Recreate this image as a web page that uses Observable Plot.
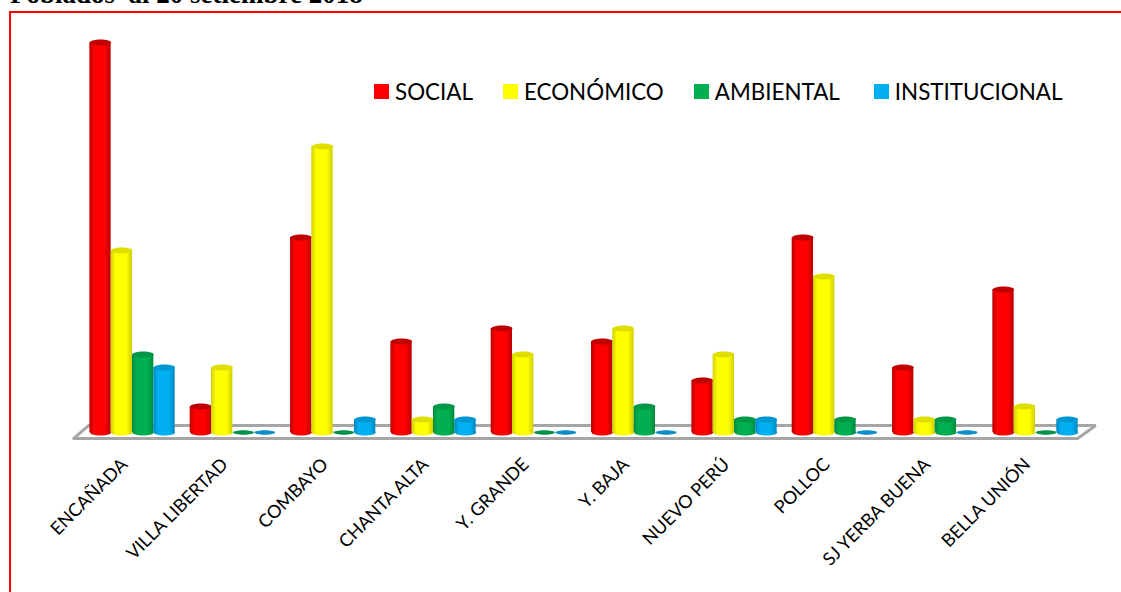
<!DOCTYPE html>
<html lang="es">
<head>
<meta charset="utf-8">
<script src="https://cdn.jsdelivr.net/npm/d3@7"></script>
<script src="https://cdn.jsdelivr.net/npm/@observablehq/plot@0.6"></script>
<style>
  html, body { margin: 0; padding: 0; background: #fff; width: 1121px; height: 592px; overflow: hidden; }
  #page { position: relative; width: 1121px; height: 592px; overflow: hidden; }
  #heading {
    position: absolute; left: 10px; top: -21px; margin: 0; white-space: pre;
    font: bold 27px "Liberation Serif", serif; color: #000;
  }
  #box {
    position: absolute; left: 9px; top: 11px; width: 1200px; height: 700px;
    border: 2px solid #f00; box-sizing: border-box;
  }
  #chart { position: absolute; left: 0; top: 0; }
  #legend { position: absolute; left: 374px; top: 78px; display: flex; font: 22.4px Lato, sans-serif; color: #000; white-space: nowrap; }
  #legend span.item { display: flex; align-items: center; }
  #legend i { display: inline-block; width: 15px; height: 15px; margin-right: 6px; }
</style>
</head>
<body>
<div id="page">
  <p id="heading">Poblados  al 20 setiembre 2018</p>
  <div id="box"></div>
  <div id="chart"></div>
  <div id="legend"></div>
</div>
<script>
// Number of proposals per hamlet, one array for each dimension.
const categories = ["ENCAÑADA", "VILLA LIBERTAD", "COMBAYO", "CHANTA ALTA", "Y. GRANDE", "Y. BAJA", "NUEVO PERÚ", "POLLOC", "SJ YERBA BUENA", "BELLA UNIÓN"];
const social        = [30, 2, 15, 7, 8, 7, 4, 15, 5, 11];
const economico     = [14, 5, 22, 1, 6, 8, 6, 12, 1, 2];
const ambiental     = [6, 0, 0, 2, 0, 2, 1, 1, 1, 0];
const institucional = [5, 0, 1, 1, 0, 0, 1, 0, 0, 1];

const seriesNames = ["SOCIAL", "ECONÓMICO", "AMBIENTAL", "INSTITUCIONAL"];
const seriesValues = [social, economico, ambiental, institucional];
const seriesFill = ["#ff0000", "#ffff00", "#00b050", "#00b0f0"];
const seriesEdge = ["#b80000", "#cfcf00", "#008a3e", "#0088c0"];
const seriesCap  = ["#c00000", "#dede00", "#009746", "#0096d2"];
const seriesFlat = ["#c00000", "#dede00", "#00924a", "#0a8fc8"];

// Width of one cylinder, in units of the x scale (one unit = one hamlet).
const barWidth = 0.2125;

// Outline of the chart floor, in x and y scale units.
const floorX = [-0.585, 9.42, 9.6, -0.435, -0.585];
const floorY = [-0.46, -0.46, 0.54, 0.54, -0.46];
const floor = floorX.map((x, i) => ({x, y: floorY[i]}));

const ellipse = (rx, ry) => ({
  draw(context) {
    const k = 0.5523;
    context.moveTo(-rx, 0);
    context.bezierCurveTo(-rx, -k * ry, -k * rx, -ry, 0, -ry);
    context.bezierCurveTo(k * rx, -ry, rx, -k * ry, rx, 0);
    context.bezierCurveTo(rx, k * ry, k * rx, ry, 0, ry);
    context.bezierCurveTo(-k * rx, ry, -rx, k * ry, -rx, 0);
    context.closePath();
  }
});
const capSymbol = ellipse(10.6, 3);
const flatSymbol = ellipse(10.4, 2.2);

// Horizontal shading that gives each bar its round look.
function gradients() {
  const defs = d3.create("svg:defs");
  seriesNames.forEach((_, i) => {
    const g = defs.append("linearGradient").attr("id", `shade${i}`).attr("x1", 0).attr("x2", 1).attr("y1", 0).attr("y2", 0);
    [[0, seriesEdge[i]], [0.22, seriesFill[i]], [0.72, seriesFill[i]], [1, seriesEdge[i]]]
      .forEach(([o, c]) => g.append("stop").attr("offset", o).attr("stop-color", c));
  });
  return defs.node();
}

const cylinders = seriesNames.flatMap((name, s) => {
  const rows = categories.map((category, i) => ({
    category,
    value: seriesValues[s][i],
    x: i + (s - 1.5) * barWidth
  }));
  const raised = rows.filter(d => d.value > 0);
  const flat = rows.filter(d => d.value === 0);
  const fill = `url(#shade${s})`;
  return [
    Plot.dot(raised, {x: "x", y: () => 0, symbol: capSymbol, fill, stroke: "none"}),
    Plot.rectY(raised, {
      x1: d => d.x - barWidth / 2,
      x2: d => d.x + barWidth / 2,
      y1: 0,
      y2: "value",
      fill,
      inset: 0
    }),
    Plot.dot(raised, {x: "x", y: "value", symbol: capSymbol, fill: seriesCap[s], stroke: "none"}),
    Plot.dot(flat, {x: "x", y: "value", symbol: flatSymbol, fill: seriesFlat[s], stroke: "none"})
  ];
});

const chart = Plot.plot({
  width: 1121,
  height: 592,
  marginLeft: 132,
  marginRight: 86,
  marginTop: 42,
  marginBottom: 160,
  style: {background: "transparent", overflow: "visible"},
  x: {domain: [0, 9], axis: null},
  y: {domain: [0, 30], axis: null},
  marks: [
    gradients,
    Plot.line(floor, {x: "x", y: "y", stroke: "#a6a6a6", strokeWidth: 3, fill: "#fff", strokeLinejoin: "miter"}),
    ...cylinders,
    Plot.axisX(d3.range(categories.length), {
      anchor: "bottom",
      tickSize: 0,
      tickPadding: 26,
      tickRotate: -45,
      tickFormat: i => categories[i],
      fontSize: 18,
      fontFamily: "Lato, sans-serif",
      fill: "#000",
      dx: -8,
      dy: 3,
      label: null
    })
  ]
});
document.getElementById("chart").append(chart);

// Key drawn over the upper right of the plot.
const legend = d3.select("#legend");
const gaps = [30, 30, 34, 0];
seriesNames.forEach((name, i) => {
  const item = legend.append("span").attr("class", "item").style("margin-right", `${gaps[i]}px`);
  item.append("i").style("background", seriesFill[i]);
  item.append("span").text(name);
});
</script>
</body>
</html>
